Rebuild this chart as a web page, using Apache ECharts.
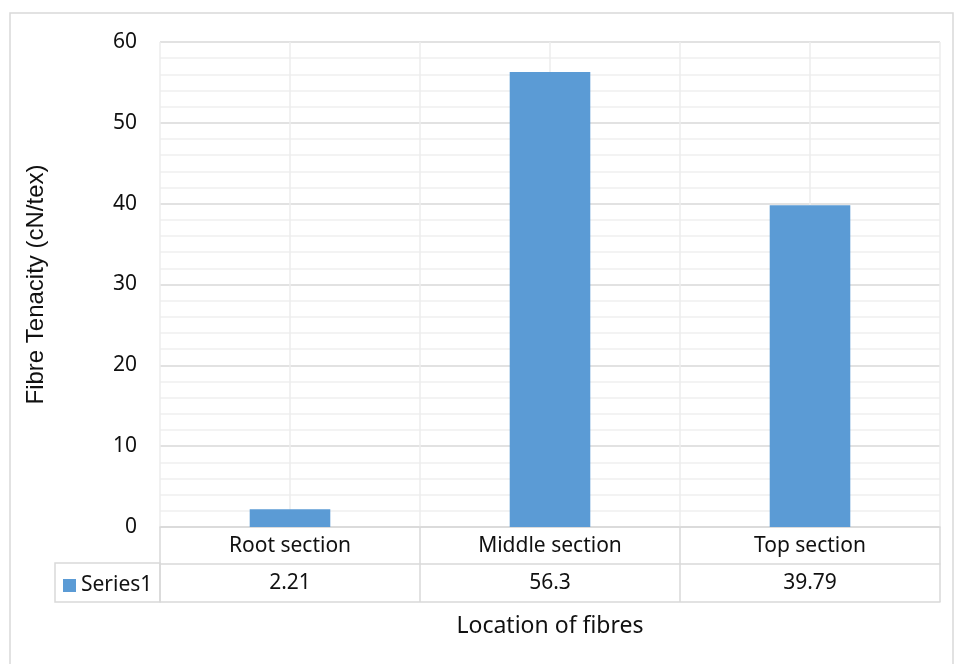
<!DOCTYPE html>
<html>
<head>
<meta charset="utf-8">
<script src="https://cdn.jsdelivr.net/npm/echarts@6/dist/echarts.min.js"></script>
<style>
  html, body { margin: 0; padding: 0; background: #fff; }
  #chart { width: 954px; height: 664px; }
</style>
</head>
<body>
<div id="chart"></div>
<script>
// Fibre tenacity by location along the fibre
const categories = ['Root section', 'Middle section', 'Top section'];
const seriesName = 'Series1';
const tenacity = [2.21, 56.3, 39.79];
const yTicks = [0, 10, 20, 30, 40, 50, 60];

const FONT = 'Noto Sans';
const TEXT = '#111';
const BORDER = '#d9d9d9';
const BAR = '#5b9bd5';
const LABEL_SIZE = 21;

const chart = echarts.init(document.getElementById('chart'));

const option = {
  animation: false,
  backgroundColor: '#fff',
  textStyle: { fontFamily: FONT },
  grid: { left: 160, right: 14, top: 42, bottom: 137, containLabel: false },
  legend: {
    data: [seriesName],
    left: 58, top: 570,
    itemWidth: 13, itemHeight: 13, itemGap: 6,
    icon: 'rect',
    selectedMode: false,
    textStyle: { fontFamily: FONT, fontSize: LABEL_SIZE, color: TEXT }
  },
  xAxis: [
    {
      // category row of the data table
      type: 'category',
      data: categories,
      position: 'bottom',
      axisLine: { show: true, lineStyle: { color: BORDER, width: 1.5 } },
      axisTick: { show: true, length: 75, lineStyle: { color: BORDER, width: 1.5 } },
      axisLabel: { fontFamily: FONT, fontSize: LABEL_SIZE, color: TEXT, margin: 9 },
      splitLine: { show: false },
      name: 'Location of fibres',
      nameLocation: 'middle',
      nameGap: 88,
      nameTextStyle: { fontFamily: FONT, fontSize: 23, color: TEXT }
    },
    {
      // value row of the data table
      type: 'category',
      data: tenacity.map(v => String(v)),
      position: 'bottom',
      offset: 37,
      axisLine: { show: true, lineStyle: { color: BORDER, width: 1.5 } },
      axisTick: { show: false },
      axisLabel: { fontFamily: FONT, fontSize: LABEL_SIZE, color: TEXT, margin: 9 },
      splitLine: { show: false }
    },
    {
      // closing line of the data table
      type: 'category',
      data: categories,
      position: 'bottom',
      offset: 75,
      axisLine: { show: true, lineStyle: { color: BORDER, width: 1.5 } },
      axisTick: { show: false },
      axisLabel: { show: false },
      splitLine: { show: false }
    },
    {
      // vertical gridlines every half category
      type: 'value',
      min: 0, max: 6, interval: 1,
      show: true,
      position: 'top',
      axisLine: { show: false },
      axisTick: { show: false },
      axisLabel: { show: false },
      splitLine: { show: true, lineStyle: { color: '#ececec', width: 1.5 } }
    }
  ],
  yAxis: {
    type: 'value',
    min: yTicks[0],
    max: yTicks[yTicks.length - 1],
    interval: 10,
    axisLine: { show: false },
    axisTick: { show: false },
    axisLabel: { fontFamily: FONT, fontSize: LABEL_SIZE, color: TEXT, margin: 23 },
    splitLine: { show: true, lineStyle: { color: BORDER, width: 1.5 } },
    minorTick: { show: false, splitNumber: 5 },
    minorSplitLine: { show: true, lineStyle: { color: '#efefef', width: 1.5 } },
    name: 'Fibre Tenacity (cN/tex)',
    nameLocation: 'middle',
    nameGap: 112,
    nameRotate: 90,
    nameTextStyle: { fontFamily: 'Liberation Sans', fontSize: 24, color: TEXT }
  },
  series: [{
    name: seriesName,
    type: 'bar',
    xAxisIndex: 0,
    data: tenacity,
    barWidth: '31%',
    itemStyle: { color: BAR },
    z: 3
  }],
  graphic: [
    {
      type: 'rect',
      shape: { x: 10, y: 13, width: 943, height: 700 },
      style: { fill: 'none', stroke: '#d9d9d9', lineWidth: 1.5 },
      silent: true, z: -1
    },
    {
      type: 'rect',
      shape: { x: 55, y: 563, width: 105, height: 39 },
      style: { fill: 'none', stroke: BORDER, lineWidth: 1.5 },
      silent: true
    }
  ]
};

chart.setOption(option);
</script>
</body>
</html>
